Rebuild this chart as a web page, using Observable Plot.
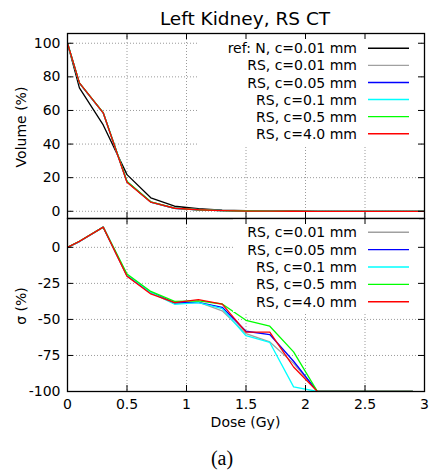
<!DOCTYPE html>
<html><head><meta charset="utf-8">
<script src="https://cdn.jsdelivr.net/npm/d3@7"></script>
<script src="https://cdn.jsdelivr.net/npm/@observablehq/plot@0.6"></script>
<style>
body{margin:0;background:#fff;}
#wrap{position:relative;width:430px;height:474px;background:#fff;overflow:hidden;}
#wrap svg{position:absolute;left:0;}
</style></head><body><div id="wrap"></div>
<script>
// ---- data ----
const title = "Left Kidney, RS CT";
const xTicks = [0, 0.5, 1, 1.5, 2, 2.5, 3];
const volTicks = [0, 20, 40, 60, 80, 100];
const sigTicks = [-100, -75, -50, -25, 0];

const doseVol = [0, 0.1, 0.3, 0.5, 0.7, 0.9, 1.1, 1.3, 1.5, 1.7, 1.9, 2.1, 2.3, 2.5, 2.7, 2.9, 3.1];
const volRef   = [100, 73.4, 51.4, 21.8, 8.0, 3.0, 1.5, 0.7, 0.3, 0.1, 0.03, 0, 0, 0, 0, 0, 0];
const volC001  = [100, 76.3, 58.6, 17.4, 5.5, 1.8, 0.9, 0.4, 0.12, 0.03, 0.01, 0, 0, 0, 0, 0, 0];
const volC005  = [100, 76.3, 58.6, 17.5, 5.5, 1.8, 0.9, 0.4, 0.13, 0.04, 0.01, 0, 0, 0, 0, 0, 0];
const volC01   = [100, 76.3, 58.6, 17.6, 5.5, 1.8, 0.9, 0.4, 0.12, 0.03, 0.0, 0, 0, 0, 0, 0, 0];
const volC05   = [100, 76.4, 58.7, 17.7, 5.6, 1.9, 0.9, 0.4, 0.15, 0.05, 0.01, 0, 0, 0, 0, 0, 0];
const volC40   = [100, 76.4, 58.6, 17.3, 5.4, 1.8, 0.9, 0.4, 0.13, 0.04, 0.01, 0, 0, 0, 0, 0, 0];

const doseSig = [0, 0.1, 0.3, 0.5, 0.7, 0.9, 1.1, 1.3, 1.5, 1.7, 1.9, 2.1, 2.3, 2.5, 2.7, 2.9];
const sigC001 = [0, 4.0, 14, -20.0, -31.5, -39.0, -38.0, -44.0, -59.8, -65.6, -80.5, -100, -100, -100, -100, -100];
const sigC005 = [0, 4.0, 14, -19.5, -31.2, -38.5, -38.2, -41.6, -58.2, -60.5, -79.0, -100, -100, -100, -100, -100];
const sigC01  = [0, 4.0, 14, -19.0, -31.2, -39.5, -38.4, -42.5, -61.3, -66.0, -96.8, -100, -100, -100, -100, -100];
const sigC05  = [0, 4.2, 14, -18.5, -30.6, -37.5, -37.2, -39.3, -50.6, -54.7, -72.5, -100, -100, -100, -100, -100];
const sigC40  = [0, 4.1, 14, -20.0, -32.3, -38.3, -36.3, -39.4, -58.8, -58.8, -83.0, -100, -100, -100, -100, -100];

const volLabels = ["ref: N, c=0.01 mm", "RS, c=0.01 mm", "RS, c=0.05 mm", "RS, c=0.1 mm", "RS, c=0.5 mm", "RS, c=4.0 mm"];
const volColors = ["#000000", "#a0a0a0", "#0000ff", "#00ffff", "#00ff00", "#ff0000"];
const sigLabels = ["RS, c=0.01 mm", "RS, c=0.05 mm", "RS, c=0.1 mm", "RS, c=0.5 mm", "RS, c=4.0 mm"];
const sigColors = ["#a0a0a0", "#0000ff", "#00ffff", "#00ff00", "#ff0000"];

const volSeries = [volRef, volC001, volC005, volC01, volC05, volC40];
const sigSeries = [sigC001, sigC005, sigC01, sigC05, sigC40];

// ---- helpers ----
const FONT = "DejaVu Sans, sans-serif";
const wrap = document.getElementById("wrap");
const fmt = d => String(d);

function legendMark(labels, colors, o) {
  return () => {
    const g = d3.create("svg:g");
    g.append("rect").attr("x", o.bx).attr("y", o.by).attr("width", o.bw).attr("height", o.bh).attr("fill", "white");
    labels.forEach((lab, i) => {
      const y = o.y0 + i * o.dy;
      g.append("text").attr("x", 357).attr("y", y).attr("dy", "0.36em")
        .attr("text-anchor", "end").attr("font-size", 14).attr("font-family", FONT).attr("fill", "black").text(lab);
      g.append("line").attr("x1", 368).attr("x2", 409).attr("y1", y).attr("y2", y)
        .attr("stroke", colors[i]).attr("stroke-width", 1.4);
    });
    return g.node();
  };
}

function frameTicks(fw, fh, yt) {
  const L = 6;
  return [
    Plot.tickX(xTicks.slice(1, -1), {x: d => d, insetTop: fh - L, stroke: "black", strokeWidth: 1}),
    Plot.tickX(xTicks.slice(1, -1), {x: d => d, insetBottom: fh - L, stroke: "black", strokeWidth: 1}),
    Plot.tickY(yt, {y: d => d, insetRight: fw - L, stroke: "black", strokeWidth: 1}),
    Plot.tickY(yt, {y: d => d, insetLeft: fw - L, stroke: "black", strokeWidth: 1})
  ];
}

function lines(xs, series, colors) {
  return series.map((s, k) => Plot.line(d3.range(xs.length), {
    x: i => xs[i], y: i => s[i], stroke: colors[k], strokeWidth: 1.3, clip: true
  }));
}

// ---- top panel ----
const topH = 220, topMT = 33, topMB = 2, ML = 67, MR = 6;
const topPlot = Plot.plot({
  width: 430, height: topH,
  marginTop: topMT, marginBottom: topMB, marginLeft: ML, marginRight: MR,
  style: {background: "transparent", fontFamily: FONT, fontSize: "14px", overflow: "visible", color: "black"},
  x: {domain: [0, 3], axis: null},
  y: {domain: [-4.3, 105.8]},
  marks: [
    Plot.gridX(xTicks.slice(1, -1), {stroke: "#9a9a9a", strokeOpacity: 1, strokeDasharray: "1,2"}),
    Plot.gridY(volTicks, {stroke: "#9a9a9a", strokeOpacity: 1, strokeDasharray: "1,2"}),
    ...lines(doseVol, volSeries, volColors),
    legendMark(volLabels, volColors, {bx: 197, by: 35, bw: 222, bh: 111, y0: 48.3, dy: 17.08}),
    Plot.frame({stroke: "black", strokeWidth: 1.3}),
    ...frameTicks(430 - ML - MR, topH - topMT - topMB, volTicks),
    Plot.axisY(volTicks, {tickSize: 0, tickPadding: 7, label: null, fontSize: 14, tickFormat: fmt})
  ]
});
topPlot.style.top = "0px";
wrap.appendChild(topPlot);

// ---- bottom panel ----
const botTop = 217, botH = 474 - 217, botMT = 1, botMB = 83;
const botPlot = Plot.plot({
  width: 430, height: botH,
  marginTop: botMT, marginBottom: botMB, marginLeft: ML, marginRight: MR,
  style: {background: "transparent", fontFamily: FONT, fontSize: "14px", overflow: "visible", color: "black"},
  x: {domain: [0, 3]},
  y: {domain: [-100, 20]},
  marks: [
    Plot.gridX(xTicks.slice(1, -1), {stroke: "#9a9a9a", strokeOpacity: 1, strokeDasharray: "1,2"}),
    Plot.gridY(sigTicks.slice(1), {stroke: "#9a9a9a", strokeOpacity: 1, strokeDasharray: "1,2"}),
    ...lines(doseSig, sigSeries, sigColors),
    legendMark(sigLabels, sigColors, {bx: 233, by: 2, bw: 186, bh: 93, y0: 15.3, dy: 17.35}),
    Plot.frame({stroke: "black", strokeWidth: 1.3}),
    ...frameTicks(430 - ML - MR, botH - botMT - botMB, sigTicks),
    Plot.axisY(sigTicks, {tickSize: 0, tickPadding: 7, label: null, fontSize: 14, tickFormat: fmt}),
    Plot.axisX(xTicks, {tickSize: 0, tickPadding: 8, label: null, fontSize: 14, tickFormat: fmt})
  ]
});
botPlot.style.top = botTop + "px";
wrap.appendChild(botPlot);

// ---- titles & caption ----
const ov = d3.select(wrap).append("svg").attr("width", 430).attr("height", 474)
  .style("top", "0px").style("pointer-events", "none").attr("font-family", FONT);
ov.append("text").attr("x", 245).attr("y", 25).attr("text-anchor", "middle").attr("font-size", 18.5).text(title);
ov.append("text").attr("transform", "translate(21,127) rotate(-90)").attr("dy", "0.36em").attr("text-anchor", "middle").attr("font-size", 14).text("Volume (%)");
ov.append("text").attr("transform", "translate(21,306) rotate(-90)").attr("dy", "0.36em").attr("text-anchor", "middle").attr("font-size", 14).text("σ (%)");
ov.append("text").attr("x", 245.5).attr("y", 427).attr("text-anchor", "middle").attr("font-size", 14).text("Dose (Gy)");
ov.append("text").attr("x", 222).attr("y", 465).attr("text-anchor", "middle").attr("font-size", 20)
  .attr("font-family", "Liberation Serif, Times New Roman, serif").text("(a)");
</script></body></html>
